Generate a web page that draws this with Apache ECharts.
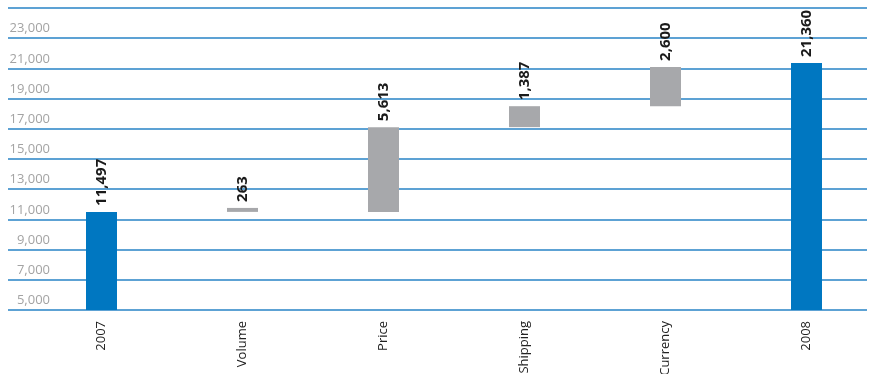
<!DOCTYPE html>
<html><head><meta charset="utf-8">
<script src="https://cdn.jsdelivr.net/npm/echarts@6/dist/echarts.min.js"></script>
<style>html,body{margin:0;padding:0;background:#fff}#c{width:869px;height:374px}</style>
</head><body><div id="c"></div>
<script>
const categories = ['2007', 'Volume', 'Price', 'Shipping', 'Currency', '2008'];
const changes = [11497, 263, 5613, 1387, 2600, 21360];
// start level of each floating bar (0 = bar rises from the axis)
const starts = [0, 11497, 11497, 17110, 18497, 0];
const isTotal = [true, false, false, false, false, true];
const yMin = 5000, yMax = 25000, yStep = 2000;

const BLUE = '#0077c1', GREY = '#a7a8ab';
const chart = echarts.init(document.getElementById('c'));
chart.setOption({
  animation: false,
  grid: [
    {left: 8, right: 2, top: 8, bottom: 64, outerBoundsMode: 'none'},
    {left: 31, width: 846, top: 8, bottom: 64, outerBoundsMode: 'none'}
  ],
  xAxis: [
    {gridIndex: 0, type: 'value', show: false, min: 0, max: 1},
    {gridIndex: 1, type: 'category', data: categories,
      axisLine: {show: false}, axisTick: {show: false},
      axisLabel: {rotate: 90, margin: 11, color: '#222', fontSize: 13,
        fontFamily: 'Open Sans', interval: 0}}
  ],
  yAxis: [
    {gridIndex: 0, type: 'value', min: yMin, max: yMax, interval: yStep,
      axisLine: {show: false}, axisTick: {show: false},
      splitLine: {lineStyle: {color: '#2783c6', width: 1.5}},
      axisLabel: {inside: true, align: 'right', margin: 42, verticalAlign: 'bottom',
        padding: [0, 0, 3, 0], color: '#a3a3a3', fontSize: 13, fontFamily: 'Open Sans',
        formatter: v => v >= yMax ? '' : v.toLocaleString('en-US')}},
    {gridIndex: 1, type: 'value', min: yMin, max: yMax, show: false, splitLine: {show: false}}
  ],
  series: [
    {type: 'bar', xAxisIndex: 1, yAxisIndex: 1, stack: 'w', barWidth: 31,
      itemStyle: {color: 'transparent'}, silent: true, data: starts},
    {type: 'bar', xAxisIndex: 1, yAxisIndex: 1, stack: 'w', barWidth: 31,
      data: changes.map((v, i) => ({value: v, itemStyle: {color: isTotal[i] ? BLUE : GREY}})),
      label: {show: true, position: 'top', rotate: 90, align: 'left', verticalAlign: 'middle',
        distance: 6, color: '#1a1a1a', fontWeight: 'bold', fontSize: 15, fontFamily: 'Open Sans',
        formatter: p => p.value.toLocaleString('en-US')}}
  ]
});
</script></body></html>
